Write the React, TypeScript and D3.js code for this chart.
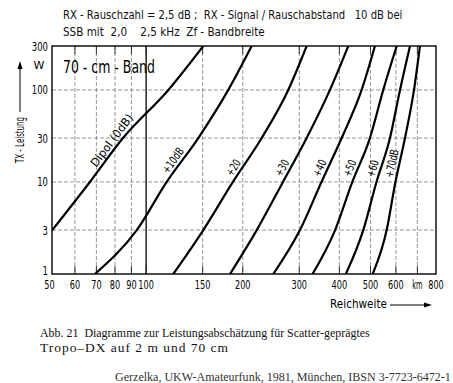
import React, { useLayoutEffect, useRef, useState } from "react";
import * as d3 from "d3";

// ---- data ----
const powerW = [1, 3, 10, 30, 100, 300];
const dipolKm = [NaN, 51, 66.8, 84.7, 117.3, 150.7];
const plus10Km = [69.3, 93.5, 115.9, 145.4, 180.3, 213.2];
const plus20Km = [121.5, 150.7, 186.4, 229.1, 277.2, 316.3];
const plus30Km = [182.5, 221.1, 266.9, 316.3, 373.9, 426.4];
const plus40Km = [249, 301.5, 351.8, 406.6, 469.3, 516.3];
const plus50Km = [330, 388, 438.9, 498, 548, 603.5];
const plus60Km = [419, 474.8, 522, 575, 618, 663.9];
const plus70Km = [508, 561.6, 598, 640.4, 683.2, 713];

const seriesLabels = ["Dipol (0dB)", "+10dB", "+20", "+30", "+40", "+50", "+60", "+70dB"];
const labelPowerW = [13.5, 11.5, 10.8, 10.8, 10.8, 10.8, 10.8, 10.8];

const xTickValues = [50, 60, 70, 80, 90, 100, 150, 200, 300, 400, 500, 600, 700, 800];
const xTickLabels = ["50", "60", "70", "80", "90", "100", "150", "200", "300", "400", "500", "600", "km", "800"];
const yTickValues = [1, 3, 10, 30, 100, 300];
const yTickLabels = ["1", "3", "10", "30", "100", "300"];

const titleLine1 = "RX - Rauschzahl = 2,5 dB ;  RX - Signal / Rauschabstand   10 dB bei";
const titleLine2 = "SSB mit  2,0    2,5 kHz  Zf - Bandbreite";
const bandLabel = "70 - cm - Band";
const yAxisTitle = "TX - Leistung";
const xAxisTitle = "Reichweite";
const unitW = "W";
const caption1 = "Abb. 21  Diagramme zur Leistungsabschätzung für Scatter-geprägtes";
const caption2 = "Tropo\u2013DX auf 2 m und 70 cm";
const source = "Gerzelka, UKW-Amateurfunk, 1981, München, IBSN 3-7723-6472-1";

const seriesKm = [dipolKm, plus10Km, plus20Km, plus30Km, plus40Km, plus50Km, plus60Km, plus70Km];

// ---- layout ----
const W = 453;
const H = 383;
const plotLeft = 52;
const plotRight = 436;
const plotTop = 46;
const plotBottom = 274;
const LET = "'DejaVu Sans', sans-serif";
const SERIF = "'Liberation Serif', 'DejaVu Serif', serif";

// Text horizontally scaled so that its drawn width equals `width`
function FitText(props: any) {
  const { children, x = 0, y = 0, width, rotate = 0, dy, ...rest } = props;
  const ref = useRef<SVGTextElement>(null);
  const [s, setS] = useState(1);
  useLayoutEffect(() => {
    if (ref.current) {
      const L = ref.current.getComputedTextLength();
      if (L > 0) setS(width / L);
    }
  }, [width, children]);
  return (
    <text
      ref={ref}
      {...rest}
      dy={dy}
      xmlSpace="preserve"
      transform={`translate(${x},${y}) rotate(${rotate}) scale(${s},1)`}
    >
      {children}
    </text>
  );
}

export default function App() {
  const x = d3.scaleLog().domain([50, 800]).range([49.5, plotRight]);
  const y = d3.scaleLog().domain([1, 300]).range([plotBottom, plotTop]);

  const line = d3
    .line<[number, number]>()
    .defined((d) => !isNaN(d[0]))
    .x((d) => x(d[0]))
    .y((d) => y(d[1]))
    .curve(d3.curveMonotoneX);

  const series = seriesKm.map((km) => km.map((k, i) => [k, powerW[i]] as [number, number]));

  const labelInfo = series.map((pts, si) => {
    const lw = labelPowerW[si];
    const valid = pts.filter((p) => !isNaN(p[0]));
    let i = 0;
    while (i < valid.length - 2 && valid[i + 1][1] < lw) i++;
    const a = valid[i];
    const b = valid[i + 1];
    const ya = y(a[1]);
    const yb = y(b[1]);
    const xa = x(a[0]);
    const xb = x(b[0]);
    const yy = y(lw);
    const t = (yy - ya) / (yb - ya);
    const xx = xa + t * (xb - xa);
    const ang = Math.atan2(yb - ya, xb - xa);
    const gap = 3.5;
    const px = xx + gap * Math.sin(ang);
    const py = yy - gap * Math.cos(ang);
    return { px, py, deg: (ang * 180) / Math.PI };
  });

  const gridX = xTickValues.filter((v) => v !== 50 && v !== 800);
  const gridY = yTickValues.filter((v) => v !== 1 && v !== 300);

  return (
    <svg
      width={W}
      height={H}
      viewBox={`0 0 ${W} ${H}`}
      style={{ position: "absolute", left: 0, top: 0, background: "#fff" }}
    >
      <rect x={0} y={0} width={W} height={H} fill="#fff" />
      {/* title */}
      <g fontFamily={LET} fontSize={12} fill="#111">
        <FitText x={63} y={19} width={340}>{titleLine1}</FitText>
        <FitText x={63} y={36} width={202}>{titleLine2}</FitText>
      </g>

      {/* grid */}
      <g>
        {gridX.map((v) => (
          <line
            key={"gx" + v}
            x1={x(v)}
            x2={x(v)}
            y1={plotTop}
            y2={plotBottom}
            stroke={v === 100 ? "#000" : "#6a6a6a"}
            strokeWidth={v === 100 ? 1.3 : 0.7}
            strokeDasharray={v === 100 ? undefined : "4 2"}
          />
        ))}
        {gridX.map((v) => (
          <g key={"tk" + v}>
            <line x1={x(v)} x2={x(v)} y1={plotTop} y2={plotTop + 8} stroke="#222" strokeWidth={0.9} />
            <line x1={x(v)} x2={x(v)} y1={plotBottom - 8} y2={plotBottom} stroke="#222" strokeWidth={0.9} />
          </g>
        ))}
        {gridY.map((v) => (
          <line
            key={"gy" + v}
            x1={plotLeft}
            x2={plotRight}
            y1={y(v)}
            y2={y(v)}
            stroke="#6a6a6a"
            strokeWidth={0.7}
            strokeDasharray="4 2"
          />
        ))}
      </g>

      {/* frame */}
      <rect
        x={plotLeft}
        y={plotTop}
        width={plotRight - plotLeft}
        height={plotBottom - plotTop}
        fill="none"
        stroke="#000"
        strokeWidth={1.4}
      />

      {/* curves */}
      <defs>
        <clipPath id="plotclip">
          <rect x={plotLeft} y={plotTop} width={plotRight - plotLeft} height={plotBottom - plotTop} />
        </clipPath>
      </defs>
      <g clipPath="url(#plotclip)">
        {series.map((pts, i) => (
          <path key={"s" + i} d={line(pts) || ""} fill="none" stroke="#000" strokeWidth={2.2} />
        ))}
      </g>

      {/* curve labels */}
      <g fontFamily={LET} fontSize={11.5} fill="#000">
        {labelInfo.map((l, i) => (
          <FitText
            key={"l" + i}
            x={l.px}
            y={l.py}
            rotate={l.deg}
            width={seriesLabels[i].length * 5.7}
          >
            {seriesLabels[i]}
          </FitText>
        ))}
      </g>

      {/* band label */}
      <g fontFamily={LET} fontSize={18} fill="#000">
        <FitText x={63} y={73} width={92}>{bandLabel}</FitText>
      </g>

      {/* y ticks */}
      <g fontFamily={LET} fontSize={12.5} fill="#000" textAnchor="end">
        {yTickValues.map((v, i) => (
          <FitText
            key={"yt" + v}
            x={48}
            y={Math.min(y(v), plotBottom - 4)}
            dy="0.36em"
            width={yTickLabels[i].length * 5.4}
          >
            {yTickLabels[i]}
          </FitText>
        ))}
      </g>
      <text x={39} y={65} dy="0.36em" textAnchor="middle" fontFamily={LET} fontSize={11}>
        {unitW}
      </text>

      {/* x ticks */}
      <g fontFamily={LET} fontSize={12.5} fill="#000" textAnchor="middle">
        {xTickValues.map((v, i) => (
          <FitText key={"xt" + v} x={x(v)} y={289} width={xTickLabels[i].length * 5.2}>
            {xTickLabels[i]}
          </FitText>
        ))}
      </g>

      {/* axis titles */}
      <g fontFamily={LET} fontSize={12} fill="#000">
        <FitText x={330} y={308} width={57}>{xAxisTitle}</FitText>
        <line x1={390} x2={428} y1={305} y2={305} stroke="#000" strokeWidth={1} />
        <path d="M432,305 L424,302.5 L424,307.5 Z" fill="#000" />
        <FitText x={24} y={163} rotate={-90} width={46}>{yAxisTitle}</FitText>
        <line x1={20} x2={20} y1={112} y2={66} stroke="#000" strokeWidth={1} />
        <path d="M20,61 L17.5,69 L22.5,69 Z" fill="#000" />
      </g>

      {/* caption */}
      <g fontFamily={SERIF} fill="#111">
        <g fontSize={13}>
          <FitText x={40} y={337} width={330}>{caption1}</FitText>
        </g>
        <text x={40} y={352} fontSize={13.5} textLength={188}>
          {caption2}
        </text>
        <g fontSize={12.5} fill="#333">
          <FitText x={115} y={381} width={336}>{source}</FitText>
        </g>
      </g>
    </svg>
  );
}
